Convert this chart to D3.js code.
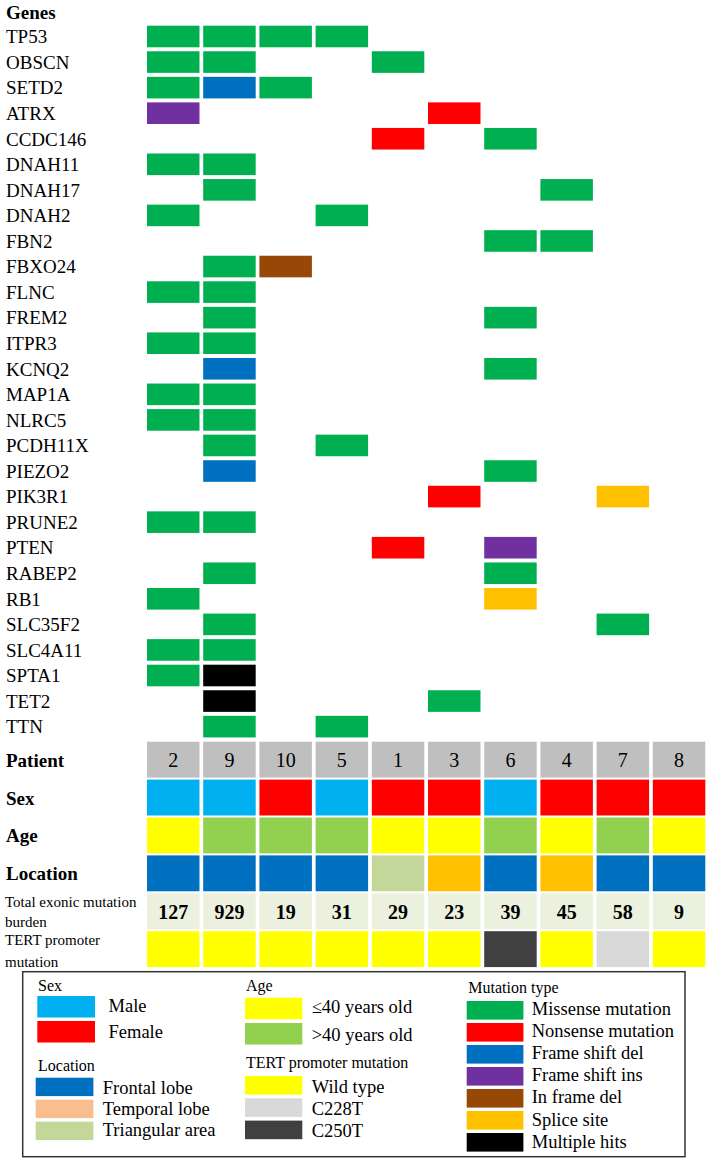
<!DOCTYPE html>
<html>
<head>
<meta charset="utf-8">
<script src="https://cdn.jsdelivr.net/npm/d3@7"></script>
<style>
  html, body { margin: 0; padding: 0; background: #fff; }
  svg text { font-family: "Liberation Serif", "Times New Roman", serif; fill: #000; }
</style>
</head>
<body>
<div id="chart"></div>
<script>
var genes = ['TP53', 'OBSCN', 'SETD2', 'ATRX', 'CCDC146', 'DNAH11', 'DNAH17', 'DNAH2', 'FBN2',
    'FBXO24', 'FLNC', 'FREM2', 'ITPR3', 'KCNQ2', 'MAP1A', 'NLRC5', 'PCDH11X', 'PIEZO2', 'PIK3R1',
    'PRUNE2', 'PTEN', 'RABEP2', 'RB1', 'SLC35F2', 'SLC4A11', 'SPTA1', 'TET2', 'TTN'];

var patients  = ['2', '9', '10', '5', '1', '3', '6', '4', '7', '8'];
var sex       = ['Male', 'Male', 'Female', 'Male', 'Female', 'Female', 'Male', 'Female', 'Female', 'Female'];
var age       = ['le40', 'gt40', 'gt40', 'gt40', 'le40', 'le40', 'gt40', 'le40', 'gt40', 'le40'];
var locations = ['Frontal', 'Frontal', 'Frontal', 'Frontal', 'Triangular', 'Temporal', 'Frontal', 'Temporal', 'Frontal', 'Frontal'];
var burden    = [127, 929, 19, 31, 29, 23, 39, 45, 58, 9];
var tert      = ['Wild', 'Wild', 'Wild', 'Wild', 'Wild', 'Wild', 'C250T', 'Wild', 'C228T', 'Wild'];

// [gene, patient, mutation type]
var mutations = [
    ['TP53', '2', 'M'], ['TP53', '9', 'M'], ['TP53', '10', 'M'], ['TP53', '5', 'M'],
    ['OBSCN', '2', 'M'], ['OBSCN', '9', 'M'], ['OBSCN', '1', 'M'],
    ['SETD2', '2', 'M'], ['SETD2', '9', 'FSdel'], ['SETD2', '10', 'M'],
    ['ATRX', '2', 'FSins'], ['ATRX', '3', 'N'],
    ['CCDC146', '1', 'N'], ['CCDC146', '6', 'M'],
    ['DNAH11', '2', 'M'], ['DNAH11', '9', 'M'],
    ['DNAH17', '9', 'M'], ['DNAH17', '4', 'M'],
    ['DNAH2', '2', 'M'], ['DNAH2', '5', 'M'],
    ['FBN2', '6', 'M'], ['FBN2', '4', 'M'],
    ['FBXO24', '9', 'M'], ['FBXO24', '10', 'IFdel'],
    ['FLNC', '2', 'M'], ['FLNC', '9', 'M'],
    ['FREM2', '9', 'M'], ['FREM2', '6', 'M'],
    ['ITPR3', '2', 'M'], ['ITPR3', '9', 'M'],
    ['KCNQ2', '9', 'FSdel'], ['KCNQ2', '6', 'M'],
    ['MAP1A', '2', 'M'], ['MAP1A', '9', 'M'],
    ['NLRC5', '2', 'M'], ['NLRC5', '9', 'M'],
    ['PCDH11X', '9', 'M'], ['PCDH11X', '5', 'M'],
    ['PIEZO2', '9', 'FSdel'], ['PIEZO2', '6', 'M'],
    ['PIK3R1', '3', 'N'], ['PIK3R1', '7', 'Splice'],
    ['PRUNE2', '2', 'M'], ['PRUNE2', '9', 'M'],
    ['PTEN', '1', 'N'], ['PTEN', '6', 'FSins'],
    ['RABEP2', '9', 'M'], ['RABEP2', '6', 'M'],
    ['RB1', '2', 'M'], ['RB1', '6', 'Splice'],
    ['SLC35F2', '9', 'M'], ['SLC35F2', '7', 'M'],
    ['SLC4A11', '2', 'M'], ['SLC4A11', '9', 'M'],
    ['SPTA1', '2', 'M'], ['SPTA1', '9', 'Multi'],
    ['TET2', '9', 'Multi'], ['TET2', '3', 'M'],
    ['TTN', '9', 'M'], ['TTN', '5', 'M']
];

var annotRows = ['Patient', 'Sex', 'Age', 'Location', 'Burden', 'TERT'];

var mutTypes  = ['M', 'N', 'FSdel', 'FSins', 'IFdel', 'Splice', 'Multi'];
var mutLabels = ['Missense mutation', 'Nonsense mutation', 'Frame shift del', 'Frame shift ins',
    'In frame del', 'Splice site', 'Multiple hits'];
var mutColors = ['#00b050', '#ff0000', '#0070c0', '#7030a0', '#974706', '#ffc000', '#000000'];

var sexKeys = ['Male', 'Female'], sexColors = ['#00b0f0', '#ff0000'];
var ageKeys = ['le40', 'gt40'], ageLabels = ['\u226440 years old', '>40 years old'], ageColors = ['#ffff00', '#92d050'];
var locKeys = ['Frontal', 'Temporal', 'Triangular'];
var locLabels = ['Frontal lobe', 'Temporal lobe', 'Triangular area'];
var locLegendColors = ['#0070c0', '#f8be8e', '#c4d79b'];
var locCellColors = ['#0070c0', '#ffc000', '#c4d79b'];   // grid shows temporal in orange
var tertKeys = ['Wild', 'C228T', 'C250T'], tertLabels = ['Wild type', 'C228T', 'C250T'];
var tertColors = ['#ffff00', '#d9d9d9', '#404040'];

var W = 709, H = 1162;

var svg = d3.select('#chart').append('svg')
    .attr('width', W)
    .attr('height', H)
    .attr('font-family', '"Liberation Serif", "Times New Roman", serif');

var x = d3.scaleBand().domain(patients).range([147, 705.3]).paddingInner(0.066).paddingOuter(0);
var y = d3.scaleBand().domain(genes).range([25.7, 25.7 + 25.56 * (genes.length - 0.155)])
    .paddingInner(0.155).paddingOuter(0);
var ya = d3.scaleBand().domain(annotRows).range([741.7, 741.7 + 37.9 * (annotRows.length - 0.053)])
    .paddingInner(0.053).paddingOuter(0);

var mutColor = d3.scaleOrdinal().domain(mutTypes).range(mutColors);
var sexColor = d3.scaleOrdinal().domain(sexKeys).range(sexColors);
var ageColor = d3.scaleOrdinal().domain(ageKeys).range(ageColors);
var locColor = d3.scaleOrdinal().domain(locKeys).range(locCellColors);
var tertColor = d3.scaleOrdinal().domain(tertKeys).range(tertColors);

// Gene labels
svg.append('text')
    .attr('x', 6).attr('y', 18.5)
    .style('font-size', '19px').style('font-weight', 'bold')
    .text('Genes');

svg.append('g').selectAll('text')
    .data(genes)
  .enter().append('text')
    .attr('x', 6)
    .attr('y', function(d) { return y(d) + y.bandwidth() / 2 + 6.8; })
    .style('font-size', '19px')
    .text(function(d) { return d; });

// Mutation cells
svg.append('g').selectAll('rect')
    .data(mutations)
  .enter().append('rect')
    .attr('x', function(d) { return x(d[1]); })
    .attr('y', function(d) { return y(d[0]); })
    .attr('width', x.bandwidth())
    .attr('height', y.bandwidth())
    .attr('fill', function(d) { return mutColor(d[2]); });

// Annotation tracks
var cols = patients.map(function(p, i) {
    return { p: p, sex: sex[i], age: age[i], loc: locations[i], burden: burden[i], tert: tert[i] };
});

var tracks = [
    { row: 'Patient', fill: function() { return '#bfbfbf'; } },
    { row: 'Sex', fill: function(d) { return sexColor(d.sex); } },
    { row: 'Age', fill: function(d) { return ageColor(d.age); } },
    { row: 'Location', fill: function(d) { return locColor(d.loc); } },
    { row: 'Burden', fill: function() { return '#ebf1de'; } },
    { row: 'TERT', fill: function(d) { return tertColor(d.tert); } }
];

tracks.forEach(function(t) {
    svg.append('g').selectAll('rect')
        .data(cols)
      .enter().append('rect')
        .attr('x', function(d) { return x(d.p); })
        .attr('y', ya(t.row))
        .attr('width', x.bandwidth())
        .attr('height', ya.bandwidth())
        .attr('fill', t.fill);
});

svg.append('g').selectAll('text')
    .data(cols)
  .enter().append('text')
    .attr('x', function(d) { return x(d.p) + x.bandwidth() / 2; })
    .attr('y', ya('Patient') + ya.bandwidth() / 2 + 7)
    .attr('text-anchor', 'middle')
    .style('font-size', '20px')
    .text(function(d) { return d.p; });

svg.append('g').selectAll('text')
    .data(cols)
  .enter().append('text')
    .attr('x', function(d) { return x(d.p) + x.bandwidth() / 2; })
    .attr('y', ya('Burden') + ya.bandwidth() / 2 + 7.3)
    .attr('text-anchor', 'middle')
    .style('font-size', '20px').style('font-weight', 'bold')
    .text(function(d) { return d.burden; });

// Annotation row labels
['Patient', 'Sex', 'Age', 'Location'].forEach(function(r) {
    svg.append('text')
        .attr('x', 6)
        .attr('y', ya(r) + ya.bandwidth() / 2 + 7)
        .style('font-size', '19px').style('font-weight', 'bold')
        .text(r);
});

var small = [['Total exonic mutation', 906.5], ['burden', 926.5], ['TERT promoter', 945], ['mutation', 966.5]];
small.forEach(function(s) {
    svg.append('text')
        .attr('x', 5).attr('y', s[1])
        .style('font-size', '15px')
        .text(s[0]);
});

// Legend
var lg = svg.append('g');
lg.append('rect')
    .attr('x', 22.7).attr('y', 971.7)
    .attr('width', 662.3).attr('height', 185)
    .attr('fill', 'none').attr('stroke', '#333').attr('stroke-width', 1.5);

function legendBlock(title, tx, ty, sx, lx, sw, items) {
    lg.append('text')
        .attr('x', tx).attr('y', ty)
        .style('font-size', '16px')
        .text(title);
    items.forEach(function(it) {
        lg.append('rect')
            .attr('x', sx).attr('y', it.y)
            .attr('width', sw).attr('height', it.h)
            .attr('fill', it.color);
        lg.append('text')
            .attr('x', lx).attr('y', it.base)
            .style('font-size', '18.5px')
            .text(it.label);
    });
}

legendBlock('Sex', 38, 990.5, 37.3, 108.5, 57.7, sexKeys.map(function(k, i) {
    return { y: [996, 1021][i], h: 21.5, color: sexColors[i], label: k, base: [1011.7, 1038.3][i] };
}));

legendBlock('Location', 38, 1070.7, 35.7, 102.7, 57.7, locKeys.map(function(k, i) {
    return { y: 1077.7 + i * 22, h: 18.4, color: locLegendColors[i], label: locLabels[i], base: 1094 + i * 21 };
}));

legendBlock('Age', 246, 990.5, 245, 311.7, 57.3, ageKeys.map(function(k, i) {
    return { y: [997.7, 1023][i], h: 21.5, color: ageColors[i], label: ageLabels[i], base: [1013.3, 1040.7][i] };
}));

legendBlock('TERT promoter mutation', 246, 1068.3, 245, 311.7, 57.3, tertKeys.map(function(k, i) {
    return { y: 1076 + i * 22.3, h: 18.6, color: tertColors[i], label: tertLabels[i], base: 1093.3 + i * 21.7 };
}));

legendBlock('Mutation type', 468.3, 993.3, 466.7, 531.7, 56.7, mutTypes.map(function(k, i) {
    return { y: 1001 + i * 22, h: 18.6, color: mutColors[i], label: mutLabels[i], base: 1015 + i * 22.1 };
}));
</script>
</body>
</html>
